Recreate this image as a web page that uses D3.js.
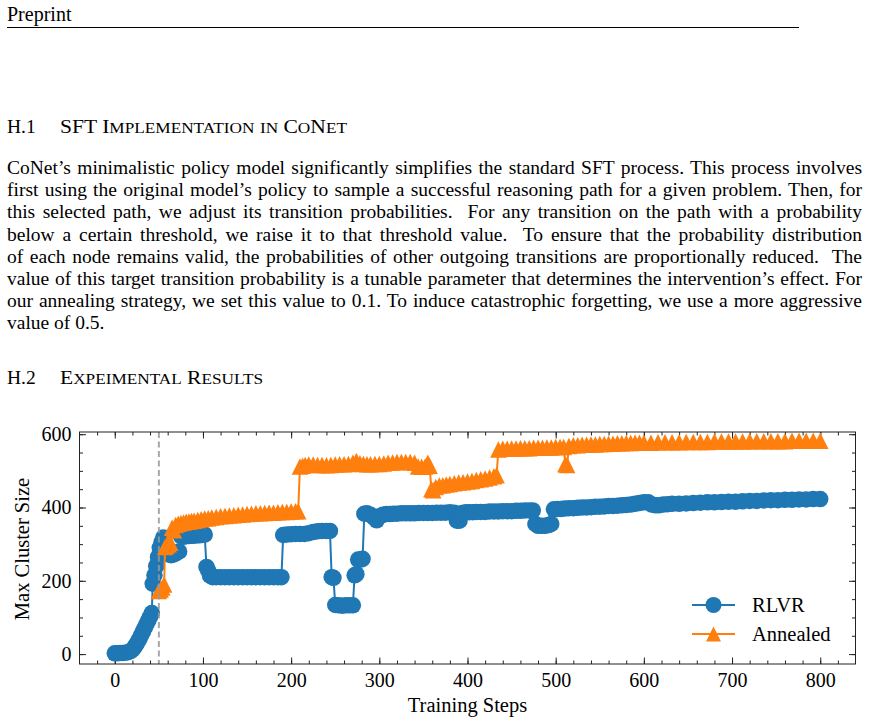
<!DOCTYPE html>
<html><head><meta charset="utf-8">
<script src="https://cdn.jsdelivr.net/npm/d3@7"></script>
<style>body{margin:0;background:#fff}svg{display:block}</style>
</head><body>
<svg id="page" width="870" height="724"></svg>
<script>
// ---------------- DATA ----------------
const rlvrSteps = [
  0,3,6,9,12,15,18,20,22,24,26,28,30,32,34,36,38,40,42,43,45,47,49,51,53,55,57,59,61,64,67,70,73,75,78,81,84,87,90,93,96,99,102,
  104,106,108,111,115,120,125,130,135,140,145,150,155,160,165,170,175,180,185,189,
  191,195,200,205,210,215,220,225,230,235,240,244,
  246,248,250,254,258,262,266,270,272,274,276,279,281,
  283,286,290,294,297,300,304,308,312,316,320,325,330,335,340,345,350,355,360,365,370,375,380,385,
  388,391,394,398,402,406,410,415,420,425,430,435,440,445,450,455,460,465,470,474,
  477,480,484,488,492,495,
  498,502,506,510,515,520,525,530,535,540,545,550,555,560,565,570,575,580,585,590,595,600,605,
  609,613,617,622,627,632,640,648,656,664,672,680,688,696,704,712,720,728,736,744,752,760,768,776,784,792,800
];
const rlvrValues = [
  2,2,3,3,4,5,8,12,18,25,33,42,52,62,72,82,92,102,112,192,215,240,265,290,305,318,305,285,272,270,272,276,280,322,320,322,322,323,323,324,324,325,326,
  238,228,214,210,210,210,210,210,210,210,210,210,210,210,210,210,210,210,210,210,
  325,326,327,328,328,328,330,333,335,336,336,336,
  210,208,134,133,132,133,133,133,215,218,258,258,260,
  383,384,380,372,365,376,380,382,382,383,383,384,384,384,384,385,385,385,385,386,386,386,387,386,
  364,364,385,387,387,387,388,388,388,389,389,389,390,390,390,391,391,392,392,392,
  355,350,350,350,352,355,
  395,396,396,397,398,398,399,400,400,401,402,402,403,404,404,405,406,407,408,410,412,414,414,
  408,406,406,408,409,410,410,411,412,413,414,414,415,416,416,417,418,418,419,420,420,421,421,422,422,423,423
];
const annealedSteps = [
  50,52,54,56,57,59,61,63,65,67,69,72,75,78,81,84,87,90,94,98,102,106,110,115,120,125,130,135,140,145,150,155,160,165,170,175,180,185,190,195,200,205,208,
  210,213,216,220,225,230,235,240,245,250,255,260,265,270,274,278,282,286,290,295,300,305,310,315,320,325,330,335,340,344,348,352,355,357,
  359,361,364,368,372,376,380,385,390,395,400,405,410,415,420,425,430,433,
  435,440,445,450,455,460,465,470,475,480,485,490,495,500,505,509,511,513,
  515,520,525,530,535,540,545,550,555,560,565,570,575,580,585,590,595,600,608,616,624,632,640,648,656,664,672,680,688,696,704,712,720,728,736,744,752,760,768,776,784,792,800
];
const annealedValues = [
  172,176,182,190,292,296,300,304,345,338,352,356,358,359,361,362,363,364,366,368,370,371,373,374,376,377,378,379,380,381,382,383,384,384,385,386,386,387,388,388,389,390,390,
  512,514,516,517,517,516,516,515,516,517,518,518,519,522,527,521,519,518,518,519,519,520,522,523,524,524,524,524,522,512,511,512,522,514,
  450,447,456,460,461,463,464,466,468,469,471,472,475,477,479,482,485,488,
  558,560,560,561,561,562,562,562,563,563,563,564,564,565,565,565,518,516,
  568,570,570,571,571,572,572,573,573,574,574,575,575,576,576,577,577,577,577,578,578,578,578,579,579,579,579,580,580,580,580,580,581,581,581,581,581,581,582,582,582,582,582
];
const xTicks = [0,100,200,300,400,500,600,700,800];
const yTicks = [0,200,400,600];
const markerStep = 50;
const seriesNames = ["RLVR","Annealed"];
const seriesColors = ["#1f77b4","#ff7f0e"];

const headerText = "Preprint";
const heading1 = ["H.1","SFT Implementation in CoNet"];
const heading2 = ["H.2","Expeimental Results"];
const paragraph = [
  "CoNet’s minimalistic policy model significantly simplifies the standard SFT process. This process involves",
  "first using the original model’s policy to sample a successful reasoning path for a given problem. Then, for",
  "this selected path, we adjust its transition probabilities.  For any transition on the path with a probability",
  "below a certain threshold, we raise it to that threshold value.  To ensure that the probability distribution",
  "of each node remains valid, the probabilities of other outgoing transitions are proportionally reduced.  The",
  "value of this target transition probability is a tunable parameter that determines the intervention’s effect. For",
  "our annealing strategy, we set this value to 0.1. To induce catastrophic forgetting, we use a more aggressive",
  "value of 0.5."
];

// ---------------- PAGE TEXT ----------------
const svg = d3.select("#page");
const serif = '"Liberation Serif","Times New Roman",serif';
const bodySize = 19.5;

svg.append("text").attr("x",7).attr("y",21).attr("font-family",serif).attr("font-size",20).text(headerText);
svg.append("line").attr("x1",7).attr("x2",799).attr("y1",27.5).attr("y2",27.5).attr("stroke","#000").attr("stroke-width",1);

function smallCaps(textSel, str, size){
  const runs = str.match(/[a-z]+|[^a-z]+/g);
  runs.forEach(r=>{
    const lower = /^[a-z]+$/.test(r);
    textSel.append("tspan").attr("font-size", lower ? size*0.8 : size).text(lower ? r.toUpperCase() : r);
  });
}
function heading(parts, y, width){
  svg.append("text").attr("x",7).attr("y",y).attr("font-family",serif).attr("font-size",bodySize).text(parts[0]);
  const t = svg.append("text").attr("x",60).attr("y",y).attr("font-family",serif).attr("font-size",bodySize);
  smallCaps(t, parts[1], bodySize);
  t.attr("textLength",width).attr("lengthAdjust","spacingAndGlyphs");
}
heading(heading1, 133, 287);
heading(heading2, 384, 203);

const lineX0 = 7, lineW = 855, firstBase = 174, pitch = 22.2;
paragraph.forEach((s,i)=>{
  const t = svg.append("text").attr("x",lineX0).attr("y",firstBase+i*pitch)
    .attr("font-family",serif).attr("font-size",bodySize).attr("xml:space","preserve").text(s);
  if(i < paragraph.length-1){
    const w = t.node().getComputedTextLength();
    const spaces = (s.match(/ /g)||[]).length;
    if (w < lineW) t.attr("word-spacing",(lineW-w)/spaces);
    else t.attr("textLength",lineW).attr("lengthAdjust","spacingAndGlyphs");
  }
});

// ---------------- CHART ----------------
const L = 79.5, R = 855.5, T = 432, B = 664;
const x = d3.scaleLinear().domain([-40,840]).range([L,R]);
const y = d3.scaleLinear().domain([-27,606]).range([B,T]);
const chartFont = 20;
const g = svg.append("g");

const minorX = d3.range(-40,841,20).filter(v=>v>-40 && v<840);
const minorY = d3.range(-50,651,50).filter(v=>v>-27 && v<606);

function styleAxis(sel){ sel.select(".domain").remove(); sel.selectAll("line").attr("stroke","#222").attr("stroke-width",1); }

g.append("g").attr("transform",`translate(0,${B})`).call(d3.axisBottom(x).tickValues(minorX).tickSize(-3.5).tickFormat("")).call(styleAxis);
g.append("g").attr("transform",`translate(0,${T})`).call(d3.axisTop(x).tickValues(minorX).tickSize(-3.5).tickFormat("")).call(styleAxis);
g.append("g").attr("transform",`translate(${L},0)`).call(d3.axisLeft(y).tickValues(minorY).tickSize(-3.5).tickFormat("")).call(styleAxis);
g.append("g").attr("transform",`translate(${R},0)`).call(d3.axisRight(y).tickValues(minorY).tickSize(-3.5).tickFormat("")).call(styleAxis);

const xb = g.append("g").attr("transform",`translate(0,${B})`).call(d3.axisBottom(x).tickValues(xTicks).tickSize(-6.5).tickPadding(9)).call(styleAxis);
g.append("g").attr("transform",`translate(0,${T})`).call(d3.axisTop(x).tickValues(xTicks).tickSize(-6.5).tickFormat("")).call(styleAxis);
const yl = g.append("g").attr("transform",`translate(${L},0)`).call(d3.axisLeft(y).tickValues(yTicks).tickSize(-6.5).tickPadding(8)).call(styleAxis);
g.append("g").attr("transform",`translate(${R},0)`).call(d3.axisRight(y).tickValues(yTicks).tickSize(-6.5).tickFormat("")).call(styleAxis);
[xb,yl].forEach(a=>a.selectAll("text").attr("font-family",serif).attr("font-size",chartFont).attr("fill","#000"));

// series
svg.append("defs").append("clipPath").attr("id","clip").append("rect")
  .attr("x",L).attr("y",T).attr("width",R-L).attr("height",B-T);
const plot = g.append("g").attr("clip-path","url(#clip)");

const ms = 16.5;
const triPath = `M0,${-ms/2}L${ms/2},${ms/2}L${-ms/2},${ms/2}Z`;
const lineGen = d3.line().x(d=>x(d[0])).y(d=>y(d[1]));

const rlvr = rlvrSteps.map((s,i)=>[s,rlvrValues[i]]);
const ann = annealedSteps.map((s,i)=>[s,annealedValues[i]]);

plot.append("path").datum(rlvr).attr("d",lineGen).attr("fill","none").attr("stroke",seriesColors[0]).attr("stroke-width",2);
plot.append("g").selectAll("circle").data(rlvr).join("circle")
  .attr("cx",d=>x(d[0])).attr("cy",d=>y(d[1])).attr("r",ms/2).attr("fill",seriesColors[0]);

plot.append("path").datum(ann).attr("d",lineGen).attr("fill","none").attr("stroke",seriesColors[1]).attr("stroke-width",2);
plot.append("g").selectAll("path").data(ann).join("path")
  .attr("transform",d=>`translate(${x(d[0])},${y(d[1])})`).attr("d",triPath).attr("fill",seriesColors[1]);

plot.append("line").attr("x1",x(markerStep)).attr("x2",x(markerStep)).attr("y1",T).attr("y2",B)
  .attr("stroke","#999").attr("stroke-width",2).attr("stroke-dasharray","6,3.5").attr("opacity",0.85);

// frame
g.append("rect").attr("x",L).attr("y",T).attr("width",R-L).attr("height",B-T).attr("fill","none").attr("stroke","#222").attr("stroke-width",1);

// axis titles
svg.append("text").attr("x",(L+R)/2).attr("y",712).attr("text-anchor","middle").attr("font-family",serif).attr("font-size",chartFont+0.5).text("Training Steps");
svg.append("text").attr("transform",`translate(29,${(T+B)/2+1}) rotate(-90)`).attr("text-anchor","middle").attr("font-family",serif).attr("font-size",chartFont+0.5).text("Max Cluster Size");

// legend
const leg = svg.append("g");
[605,634].forEach((ly,i)=>{
  leg.append("line").attr("x1",692).attr("x2",735).attr("y1",ly).attr("y2",ly).attr("stroke",seriesColors[i]).attr("stroke-width",2);
  if(i===0) leg.append("circle").attr("cx",713.5).attr("cy",ly).attr("r",8).attr("fill",seriesColors[0]);
  else leg.append("path").attr("transform",`translate(713.5,${ly})`).attr("d",`M0,-7.5L7.5,7.5L-7.5,7.5Z`).attr("fill",seriesColors[1]);
  leg.append("text").attr("x",752).attr("y",ly+7).attr("font-family",serif).attr("font-size",chartFont+0.5).text(seriesNames[i]);
});
</script>
</body></html>
